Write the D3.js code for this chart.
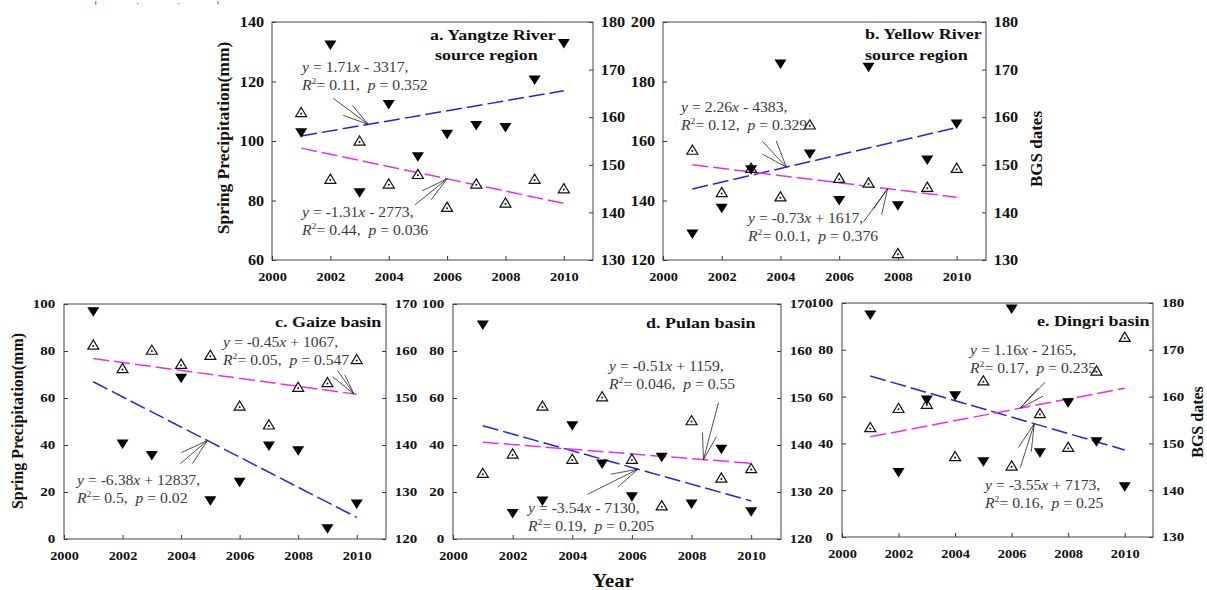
<!doctype html>
<html>
<head>
<meta charset="utf-8">
<title>Spring precipitation and BGS dates, 2001-2010</title>
<script src="https://cdn.jsdelivr.net/npm/d3@7"></script>
<style>
  body { margin: 0; background: #fff; }
  text { font-family: "Liberation Serif", "Times New Roman", serif; }
</style>
</head>
<body>
<svg id="chart" width="1207" height="590"></svg>
<script>
// ---- data ----
const years = [2001, 2002, 2003, 2004, 2005, 2006, 2007, 2008, 2009, 2010];
const xTicks = [2000, 2002, 2004, 2006, 2008, 2010];

// spring precipitation (mm), filled triangles, left axis
const precipA = [102.8, 132.3, 82.6, 112.3, 94.7, 102.3, 105.2, 104.5, 120.5, 132.8];
const precipB = [128.7, 137.4, 150.3, 185.9, 155.6, 140.0, 184.8, 138.2, 153.6, 165.7];
const precipC = [96.7, 40.4, 35.5, 68.4, 16.3, 24.1, 39.6, 37.6, 4.4, 14.9];
const precipD = [91.1, 10.9, 16.2, 48.2, 31.9, 18.0, 34.8, 14.9, 38.2, 11.6];
const precipE = [94.9, 27.6, 58.5, 60.4, 32.2, 97.4, 36.0, 57.4, 40.7, 21.5];

// BGS dates, open triangles, right axis
const bgsA = [161.0, 147.0, 155.0, 146.0, 148.0, 141.1, 146.0, 142.0, 147.0, 145.0];
const bgsB = [153.1, 144.2, 149.3, 143.3, 158.4, 147.2, 146.2, 131.4, 145.3, 149.3];
const bgsC = [161.3, 156.3, 160.2, 157.2, 159.1, 148.3, 144.3, 152.3, 153.3, 158.2];
const bgsD = [134.0, 138.1, 148.3, 137.0, 150.3, 137.0, 127.1, 145.2, 133.0, 135.0];
const bgsE = [153.4, 157.5, 158.4, 147.2, 163.4, 145.2, 156.4, 149.2, 165.5, 172.7];

// trend lines: values at 2001 and 2010 as drawn
const trendYears = [2001, 2010];
const trendPrecipA = [101.7, 116.9], trendBgsA = [153.5, 141.9];
const trendPrecipB = [143.9, 164.5], trendBgsB = [150.0, 143.2];
const trendPrecipC = [66.9, 9.2],    trendBgsC = [158.4, 150.8];
const trendPrecipD = [48.2, 16.2],   trendBgsD = [140.6, 136.1];
const trendPrecipE = [68.8, 37.2],   trendBgsE = [151.4, 161.8];

const panels = [
  { box: [272, 22, 593, 260], yLeft: [60, 140], yRight: [130, 180], big: true,
    precip: precipA, bgs: bgsA, tP: trendPrecipA, tB: trendBgsA,
    title: [["a. Yangtze River", 430, 40], ["source region", 435, 60]],
    eqP: { lines: ["y = 1.71x - 3317,", "R^2= 0.11,  p = 0.352"], at: [302, 72],
           tip: 2003.3, from: [[-35, -26], [-16, -19], [-25, -9]] },
    eqB: { lines: ["y = -1.31x - 2773,", "R^2= 0.44,  p = 0.036"], at: [302, 217],
           tip: 2006, from: [[-25, 12], [-16, 21], [-32, 26]] } },
  { box: [663, 22, 986, 260], yLeft: [120, 200], yRight: [130, 180], big: true,
    precip: precipB, bgs: bgsB, tP: trendPrecipB, tB: trendBgsB,
    title: [["b. Yellow River", 865, 39], ["source region", 865, 60]],
    eqP: { lines: ["y = 2.26x - 4383,", "R^2= 0.12,  p = 0.329"], at: [681, 112],
           tip: 2004.2, from: [[-24, -26], [-10, -26], [-24, -13]] },
    eqB: { lines: ["y = -0.73x + 1617,", "R^2= 0.0.1,  p = 0.376"], at: [748, 223],
           tip: 2007.65, from: [[-24, 33], [-6, 26], [-14, 20]] } },
  { box: [64, 304, 386, 539], yLeft: [0, 100], yRight: [120, 170], big: false,
    precip: precipC, bgs: bgsC, tP: trendPrecipC, tB: trendBgsC,
    title: [["c. Gaize basin", 275, 327]],
    eqP: { lines: ["y = -6.38x + 12837,", "R^2= 0.5,  p = 0.02"], at: [77, 485],
           tip: 2004.9, from: [[-26, 12], [-27, 23], [-15, 23]] },
    eqB: { lines: ["y = -0.45x + 1067,", "R^2= 0.05,  p = 0.547"], at: [223, 347],
           tip: 2009.9, from: [[-21, -17], [-16, -23], [-9, -19]] } },
  { box: [453, 304, 781, 539], yLeft: [0, 100], yRight: [120, 170], big: false,
    precip: precipD, bgs: bgsD, tP: trendPrecipD, tB: trendBgsD,
    title: [["d. Pulan basin", 646, 328]],
    eqP: { lines: ["y = -3.54x - 7130,", "R^2= 0.19,  p = 0.205"], at: [528, 513],
           tip: 2006.2, from: [[-50, 25], [-27, 5], [-20, 18]] },
    eqB: { lines: ["y = -0.51x + 1159,", "R^2= 0.046,  p = 0.55"], at: [609, 371],
           tip: 2008.4, from: [[15, -57], [-1, -27], [13, -23]] } },
  { box: [842, 303, 1153, 537], yLeft: [0, 100], yRight: [130, 180], big: false,
    precip: precipE, bgs: bgsE, tP: trendPrecipE, tB: trendBgsE,
    title: [["e. Dingri basin", 1037, 326]],
    eqP: { lines: ["y = -3.55x + 7173,", "R^2= 0.16,  p = 0.25"], at: [985, 490],
           tip: 2006.8, from: [[-16, 24], [-3, 28], [-14, 44]] },
    eqB: { lines: ["y = 1.16x - 2165,", "R^2= 0.17,  p = 0.235"], at: [970, 355],
           tip: 2006.3, from: [[25, -26], [23, -12], [18, -20]] } }
];

const svg = d3.select("#chart");
const SX = 1.15;   // the figure's lettering is stretched horizontally

// plain label with the horizontal stretch
function label(x, y, str, size, opts = {}) {
  return svg.append("text")
    .attr("transform", `translate(${x},${y}) scale(${opts.sx || SX},1)`)
    .attr("font-size", size)
    .attr("font-weight", opts.weight || "bold")
    .attr("text-anchor", opts.anchor || "start")
    .attr("fill", opts.fill || "#111")
    .text(str);
}

// equation line: x y R p in italics, ^2 as superscript
function eqLine(x, y, str) {
  const size = 14;
  const t = svg.append("text")
    .attr("transform", `translate(${x},${y}) scale(1.12,1)`)
    .attr("font-size", size)
    .attr("fill", "#3a3a3a")
    .style("white-space", "pre");
  const runs = [];
  for (let i = 0; i < str.length; i++) {
    let ch = str[i], kind = "n";
    if (ch === "^") { ch = str[++i]; kind = "sup"; }
    else if ("xyRp".includes(ch)) kind = "i";
    const last = runs[runs.length - 1];
    if (last && last.kind === kind) last.s += ch; else runs.push({ s: ch, kind: kind });
  }
  let raised = false;
  runs.forEach(r => {
    const ts = t.append("tspan").text(r.s);
    if (r.kind === "i") ts.attr("font-style", "italic");
    if (r.kind === "sup") {
      ts.attr("font-size", size * 0.62).attr("dy", -size * 0.4);
      raised = true;
    } else if (raised) {
      ts.attr("dy", size * 0.4);
      raised = false;
    }
  });
}

function styleAxis(g, size, sx) {
  g.attr("font-size", null).attr("font-family", null);
  g.select(".domain").remove();
  g.selectAll(".tick line").attr("stroke", "#333");
  g.selectAll(".tick text")
    .attr("font-size", size)
    .attr("font-weight", "bold")
    .attr("fill", "#111")
    .attr("transform", `scale(${sx},1)`);
}

panels.forEach(p => {
  const [x0, y0, x1, y1] = p.box;
  const x = d3.scaleLinear().domain([2000, 2011]).range([x0, x1]);
  const yL = d3.scaleLinear().domain(p.yLeft).range([y1, y0]);
  const yR = d3.scaleLinear().domain(p.yRight).range([y1, y0]);
  const ySize = p.big ? 14.5 : 12;
  const ySx = p.big ? 1.12 : 1.25;

  // axes
  svg.append("g").attr("transform", `translate(0,${y1})`)
    .call(d3.axisBottom(x).tickValues(xTicks).tickFormat(d3.format("d"))
      .tickSize(-4).tickPadding(12))
    .call(g => styleAxis(g, 12.5, 1.15));
  svg.append("g").attr("transform", `translate(${x0},0)`)
    .call(d3.axisLeft(yL).tickValues(d3.range(p.yLeft[0], p.yLeft[1] + 1, 20))
      .tickSize(-4).tickPadding(7))
    .call(g => styleAxis(g, ySize, ySx));
  svg.append("g").attr("transform", `translate(${x1},0)`)
    .call(d3.axisRight(yR).tickValues(d3.range(p.yRight[0], p.yRight[1] + 1, 10))
      .tickSize(-4).tickPadding(7))
    .call(g => styleAxis(g, ySize, ySx));

  svg.append("rect")
    .attr("x", x0).attr("y", y0)
    .attr("width", x1 - x0).attr("height", y1 - y0)
    .attr("fill", "none").attr("stroke", "#444").attr("stroke-width", 1);

  // trend lines
  const line = ys => d3.line().x(d => x(d[0])).y(d => ys(d[1]));
  svg.append("path")
    .datum(trendYears.map((yr, i) => [yr, p.tP[i]]))
    .attr("d", line(yL))
    .attr("fill", "none").attr("stroke", "#2424dc").attr("stroke-width", 1.5)
    .attr("stroke-dasharray", "16,5");
  svg.append("path")
    .datum(trendYears.map((yr, i) => [yr, p.tB[i]]))
    .attr("d", line(yR))
    .attr("fill", "none").attr("stroke", "#e830e8").attr("stroke-width", 1.5)
    .attr("stroke-dasharray", "16,5");

  // BGS dates: open up-triangles with a dot
  const open = svg.append("g").selectAll("g")
    .data(years.map((yr, i) => [yr, p.bgs[i]]))
    .join("g")
    .attr("transform", d => `translate(${x(d[0])},${yR(d[1])})`);
  open.append("path")
    .attr("d", "M0,-5L5.5,4.2L-5.5,4.2Z")
    .attr("fill", "#fff").attr("stroke", "#111").attr("stroke-width", 1.2);
  open.append("circle").attr("cy", 1).attr("r", 1).attr("fill", "#111");

  // precipitation: filled down-triangles
  svg.append("g").selectAll("path")
    .data(years.map((yr, i) => [yr, p.precip[i]]))
    .join("path")
    .attr("transform", d => `translate(${x(d[0])},${yL(d[1])})`)
    .attr("d", "M-6,-4.5L6,-4.5L0,5Z")
    .attr("fill", "#000");

  // titles
  p.title.forEach(t => label(t[1], t[2], t[0], 15, { sx: 1.2 }));

  // equations with converging pointer lines
  [[p.eqP, yL, p.tP], [p.eqB, yR, p.tB]].forEach(([eq, ys, tr]) => {
    eq.lines.forEach((s, i) => eqLine(eq.at[0], eq.at[1] + i * 18, s));
    const f = (eq.tip - trendYears[0]) / (trendYears[1] - trendYears[0]);
    const tx = x(eq.tip), ty = ys(tr[0] + f * (tr[1] - tr[0]));
    svg.append("g").selectAll("line")
      .data(eq.from)
      .join("line")
      .attr("x1", d => tx + d[0]).attr("y1", d => ty + d[1])
      .attr("x2", tx).attr("y2", ty)
      .attr("stroke", "#222").attr("stroke-width", 0.8);
  });
});

// axis titles
svg.append("text")
  .attr("transform", "translate(229,138) rotate(-90)")
  .attr("text-anchor", "middle").attr("font-size", 17.5).attr("font-weight", "bold")
  .attr("fill", "#111").text("Spring Precipitation(mm)");
svg.append("text")
  .attr("transform", "translate(23,421) rotate(-90)")
  .attr("text-anchor", "middle").attr("font-size", 16).attr("font-weight", "bold")
  .attr("fill", "#111").text("Spring Precipitation(mm)");
svg.append("text")
  .attr("transform", "translate(1042,149) rotate(-90)")
  .attr("text-anchor", "middle").attr("font-size", 17).attr("font-weight", "bold")
  .attr("fill", "#111").text("BGS dates");
svg.append("text")
  .attr("transform", "translate(1203,422) rotate(-90)")
  .attr("text-anchor", "middle").attr("font-size", 16).attr("font-weight", "bold")
  .attr("fill", "#111").text("BGS dates");
label(613, 587, "Year", 18, { anchor: "middle" });

// tiny remnant of a caption that sits just above the figure
[["[", 95], [",", 137], [",", 178], ["]", 217]].forEach(d => label(d[1], 3.5, d[0], 4.5));
</script>
</body>
</html>
